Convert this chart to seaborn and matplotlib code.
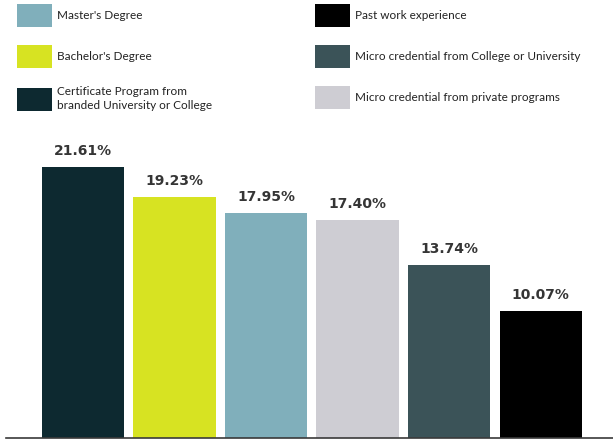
import matplotlib
matplotlib.use("Agg")
import matplotlib.pyplot as plt
from matplotlib.patches import Patch
import seaborn as sns
import pandas as pd

# Share of respondents by credential type
categories = [
    "Certificate Program from\nbranded University or College",
    "Bachelor's Degree",
    "Master's Degree",
    "Micro credential from private programs",
    "Micro credential from College or University",
    "Past work experience",
]
shares = [21.61, 19.23, 17.95, 17.40, 13.74, 10.07]
colors = ["#0d2930", "#d7e322", "#80afbb", "#cecdd3", "#3b5358", "#000000"]

# Legend layout: two columns, read top to bottom
legend_left = [
    "Master's Degree",
    "Bachelor's Degree",
    "Certificate Program from\nbranded University or College",
]
legend_right = [
    "Past work experience",
    "Micro credential from College or University",
    "Micro credential from private programs",
]

df = pd.DataFrame({"category": categories, "share": shares})
palette = dict(zip(categories, colors))

sns.set_theme(style="white")
plt.rcParams["font.family"] = ["Lato", "DejaVu Sans"]

W, H, DPI = 613, 440, 100
fig = plt.figure(figsize=(W / DPI, H / DPI), dpi=DPI)
fig.patch.set_facecolor("white")

# axes spans pixels x 6..613, y 140..437.5 (from top)
ax = fig.add_axes([6 / W, (H - 437.5) / H, (W - 6) / W, (437.5 - 140) / H])
sns.barplot(data=df, x="category", y="share", hue="category", palette=palette,
            order=categories, hue_order=categories, width=0.9, dodge=False,
            legend=False, saturation=1, ax=ax, linewidth=0)

ax.set_xlim(-0.842, 5.79)
ax.set_ylim(0, 23.76)
ax.set_xlabel("")
ax.set_ylabel("")
ax.set_xticks([])
ax.set_yticks([])
for s in ["top", "right", "left"]:
    ax.spines[s].set_visible(False)
ax.spines["bottom"].set_color("#3a3a3a")
ax.spines["bottom"].set_linewidth(1.2)
ax.patch.set_alpha(0)

for i, v in enumerate(shares):
    ax.annotate(f"{v:.2f}%", xy=(i, v), xytext=(0, 6.5), textcoords="offset points",
                ha="center", va="bottom", fontsize=10, fontweight="bold",
                color="#353535", family="DejaVu Sans", annotation_clip=False)

fs = 8.5
fs_px = fs * DPI / 72
# legend swatch of 35 x 23 px
sw_h_pt = 23 * 72 / DPI
hh = (sw_h_pt / fs - 0.245) / 0.65
common = dict(frameon=False, fontsize=fs, borderpad=0, borderaxespad=0,
              handlelength=35 / fs_px, handleheight=hh,
              handletextpad=5 / fs_px, labelspacing=18 / fs_px, loc="upper left")

h_left = [Patch(facecolor=palette[c], edgecolor="none", label=c) for c in legend_left]
h_right = [Patch(facecolor=palette[c], edgecolor="none", label=c) for c in legend_right]

leg1 = fig.legend(handles=h_left, bbox_to_anchor=(17 / W, 1 - 4 / H), **common)
leg2 = fig.legend(handles=h_right, bbox_to_anchor=(315 / W, 1 - 4 / H), **common)
for leg in (leg1, leg2):
    for t in leg.get_texts():
        t.set_color("#222222")
        t.set_linespacing(1.3)

fig.savefig("out.png", dpi=DPI)
